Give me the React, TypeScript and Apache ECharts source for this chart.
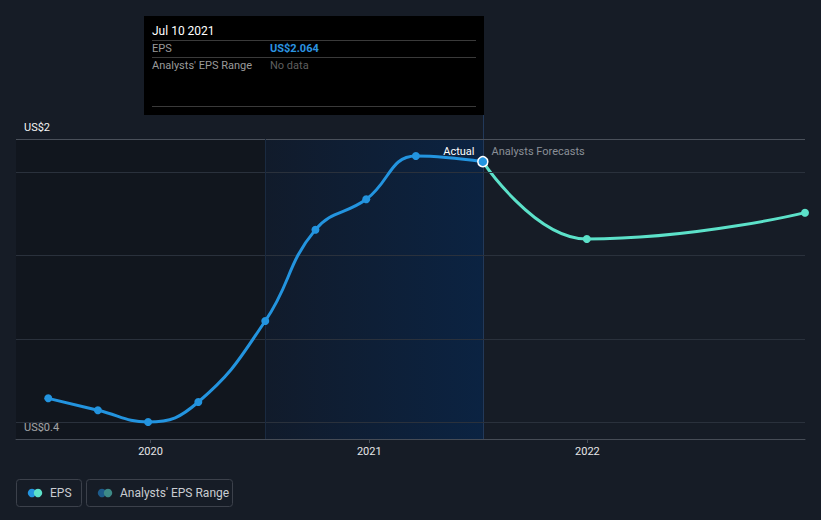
import React, { useEffect, useRef } from "react";
import * as echarts from "echarts";

const actualDates = ["2019-07-14", "2019-10-05", "2019-12-28", "2020-03-21", "2020-07-11", "2020-10-03", "2020-12-27", "2021-03-20", "2021-07-10"];
const actualEps = [0.644, 0.572, 0.502, 0.622, 1.108, 1.656, 1.838, 2.098, 2.064];
const forecastDates = ["2021-07-10", "2021-12-31", "2022-12-31"];
const forecastEps = [2.064, 1.6, 1.758];
const yearTicks = ["2020-01-01", "2021-01-01", "2022-01-01"];
const yTickValues = [0.4, 2.2];
const yTickLabels = ["US$0.4", "US$2"];
const gridValues = [0.5, 1, 1.5, 2];
const xMin = "2019-05-21";
const xMax = "2022-12-31";
const yMin = 0.4;
const yMax = 2.2;
const pastEnd = "2020-07-11";
const hoverDate = "2021-07-10";
const hoverEps = 2.064;
const tooltipTitle = "Jul 10 2021";
const legendItems = ["EPS", "Analysts' EPS Range"];

const FONT = "Roboto, 'Noto Sans', sans-serif";
const BLUE = "#2394df";
const TEAL = "#5ce1c9";
const ts = (d: string) => echarts.number.parseDate(d).getTime();

export default function App() {
  const ref = useRef<HTMLDivElement>(null);
  useEffect(() => {
    document.body.style.margin = "0";
    const chart = echarts.init(ref.current!, null, { renderer: "svg" });
    const option: any = {
      animation: false,
      backgroundColor: "#161c26",
      textStyle: { fontFamily: FONT },
      grid: { left: 16, right: 16, top: 139, bottom: 81 },
      xAxis: {
        type: "value",
        min: ts(xMin),
        max: ts(xMax),
        splitLine: { show: false },
        axisLine: { lineStyle: { color: "#464c56", width: 1 } },
        axisTick: { show: true, customValues: yearTicks.map(ts), length: 4, lineStyle: { color: "#464c56" } },
        axisLabel: {
          customValues: yearTicks.map(ts),
          formatter: (v: number) => String(new Date(v).getFullYear()),
          color: "#e6e6e6",
          fontSize: 11,
          fontFamily: FONT,
          margin: 7,
        },
      },
      yAxis: {
        type: "value",
        min: yMin,
        max: yMax,
        splitLine: { show: false },
        axisLine: { show: false },
        axisTick: { show: false },
        axisLabel: {
          inside: true,
          customValues: yTickValues,
          formatter: (v: number) => {
            const i = yTickValues.findIndex((t) => Math.abs(t - v) < 1e-6);
            return i >= 0 ? yTickLabels[i] : "";
          },
          color: "#f4f4f4",
          fontSize: 11,
          fontFamily: FONT,
          verticalAlign: "bottom",
          padding: [0, 0, 6, 0],
          margin: 8,
        },
      },
      series: [
        {
          type: "line",
          name: "EPS",
          data: actualDates.map((d, i) => {
            const last = i === actualDates.length - 1;
            return {
              value: [ts(d), actualEps[i]],
              symbolSize: last ? 10 : 8,
              itemStyle: last ? { color: BLUE, borderColor: "#ffffff", borderWidth: 1.5 } : { color: BLUE },
            };
          }),
          smooth: 0.45,
          symbol: "circle",
          symbolSize: 8,
          lineStyle: { color: BLUE, width: 3 },
          itemStyle: { color: BLUE },
          z: 5,
          markArea: {
            silent: true,
            data: [
              [
                { xAxis: ts(xMin), itemStyle: { color: "rgba(10,12,16,0.35)" } },
                { xAxis: ts(pastEnd) },
              ],
              [
                {
                  xAxis: ts(pastEnd),
                  itemStyle: {
                    color: new echarts.graphic.LinearGradient(0, 0, 1, 0, [
                      { offset: 0, color: "#111b2b" },
                      { offset: 1, color: "#0b2342" },
                    ]),
                  },
                },
                { xAxis: ts(hoverDate) },
              ],
            ],
          },
          markLine: {
            silent: true,
            symbol: "none",
            label: { show: false },
            data: [
              ...gridValues.map((v) => ({ yAxis: v, lineStyle: { color: "#2a313c", width: 1, type: "solid" } })),
              { yAxis: yMax, lineStyle: { color: "#4a505a", width: 1, type: "solid" } },
              { xAxis: ts(pastEnd), lineStyle: { color: "#1a2a40", width: 1, type: "solid" } },
            ],
          },
        },
        {
          type: "line",
          name: "Forecast",
          data: forecastDates.map((d, i) => ({
            value: [ts(d), forecastEps[i]],
            symbol: i === 0 ? "none" : "circle",
          })),
          smooth: 0.5,
          smoothMonotone: "x",
          symbol: "circle",
          symbolSize: 8,
          lineStyle: { color: TEAL, width: 3 },
          itemStyle: { color: TEAL },
          z: 4,
        },
      ],
    };
    chart.setOption(option);

    const p = chart.convertToPixel({ gridIndex: 0 }, [ts(hoverDate), hoverEps]) as number[];
    const hx = Math.round(p[0]) + 0.5;
    const gridTop = 139;
    const gridBottom = 439;
    const boxW = 340;
    const boxX = hx - boxW + 0.5;
    const tx = boxX + 8;

    const legendGroup = (x: number, w: number, label: string, c1: string, c2: string) => ({
      type: "group",
      children: [
        { type: "rect", shape: { x: x + 0.5, y: 479.5, width: w, height: 27, r: 3 }, style: { fill: "transparent", stroke: "#3c414b", lineWidth: 1 } },
        { type: "circle", shape: { cx: x + 16, cy: 493, r: 4.2 }, style: { fill: c1 } },
        { type: "circle", shape: { cx: x + 22, cy: 493, r: 4.2 }, style: { fill: c2 } },
        { type: "text", x: x + 34, y: 493, style: { text: label, fill: "#c9ccd1", fontSize: 12, fontFamily: FONT, verticalAlign: "middle", textAlign: "left" } },
      ],
    });

    chart.setOption({
      graphic: [
        { type: "line", shape: { x1: hx, y1: 115, x2: hx, y2: gridBottom }, style: { stroke: "#22395a", lineWidth: 1 }, z: 3, silent: true },
        {
          type: "text", x: hx - 9, y: gridTop + 12,
          style: { text: "Actual", fill: "#ffffff", fontSize: 11, fontFamily: FONT, textAlign: "right", verticalAlign: "middle" }, z: 10,
        },
        {
          type: "text", x: hx + 8, y: gridTop + 12,
          style: { text: "Analysts Forecasts", fill: "#8a8f97", fontSize: 11, fontFamily: FONT, textAlign: "left", verticalAlign: "middle" }, z: 10,
        },
        {
          type: "group",
          z: 20,
          children: [
            { type: "rect", shape: { x: boxX, y: 16, width: boxW, height: 99 }, style: { fill: "#000000" } },
            { type: "text", x: tx, y: 31, style: { text: tooltipTitle, fill: "#ffffff", fontSize: 12, fontFamily: FONT, verticalAlign: "middle" } },
            { type: "line", shape: { x1: tx, y1: 40.5, x2: boxX + boxW - 8, y2: 40.5 }, style: { stroke: "#3a3a3a", lineWidth: 1 } },
            { type: "text", x: tx, y: 48.5, style: { text: "EPS", fill: "#9a9a9a", fontSize: 11, fontFamily: FONT, verticalAlign: "middle" } },
            { type: "text", x: tx + 118, y: 48.5, style: { text: "US$" + hoverEps.toFixed(3), fill: "#2b94e0", fontSize: 11, fontWeight: "bold", fontFamily: FONT, verticalAlign: "middle" } },
            { type: "line", shape: { x1: tx, y1: 57.5, x2: boxX + boxW - 8, y2: 57.5 }, style: { stroke: "#3a3a3a", lineWidth: 1 } },
            { type: "text", x: tx, y: 65.5, style: { text: "Analysts' EPS Range", fill: "#9a9a9a", fontSize: 11, fontFamily: FONT, verticalAlign: "middle" } },
            { type: "text", x: tx + 118, y: 65.5, style: { text: "No data", fill: "#5f5f5f", fontSize: 11, fontFamily: FONT, verticalAlign: "middle" } },
            { type: "line", shape: { x1: tx, y1: 106.5, x2: boxX + boxW - 8, y2: 106.5 }, style: { stroke: "#3a3a3a", lineWidth: 1 } },
          ],
        },
        legendGroup(16, 65, legendItems[0], BLUE, TEAL),
        legendGroup(86, 146, legendItems[1], "#1d5b8a", "#3d8a87"),
      ],
    });

    return () => chart.dispose();
  }, []);
  return <div ref={ref} style={{ width: 821, height: 520 }} />;
}
